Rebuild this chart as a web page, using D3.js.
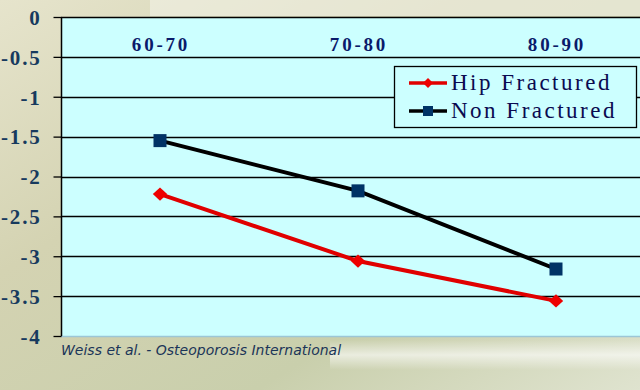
<!DOCTYPE html>
<html><head><meta charset="utf-8">
<script src="https://cdn.jsdelivr.net/npm/d3@7"></script>
<style>html,body{margin:0;padding:0;overflow:hidden;background:#d6d6b8}
.serif{font-family:"Liberation Serif","DejaVu Serif","Times New Roman",serif}</style>
</head><body>
<script>
const categories = ["60-70", "70-80", "80-90"];
const hipFractured = [-2.22, -3.06, -3.56];
const nonFractured = [-1.55, -2.18, -3.16];
const yTicks = [0, -0.5, -1, -1.5, -2, -2.5, -3, -3.5, -4];
const yTickLabels = ["0", "-0.5", "-1", "-1.5", "-2", "-2.5", "-3", "-3.5", "-4"];
const seriesNames = ["Hip Fractured", "Non Fractured"];
const sourceText = "Weiss et al. - Osteoporosis International";

(function(){
const W = 640, H = 390;
const svg = d3.select("body").append("svg").attr("width", W).attr("height", H);
const defs = svg.append("defs");

// background texture approximation
const bg = defs.append("linearGradient").attr("id","bg").attr("x1","0").attr("y1","0").attr("x2","1").attr("y2","1");
bg.append("stop").attr("offset","0").attr("stop-color","#e6e4cc");
bg.append("stop").attr("offset","0.35").attr("stop-color","#d4d3b2");
bg.append("stop").attr("offset","0.7").attr("stop-color","#c9cfac");
bg.append("stop").attr("offset","1").attr("stop-color","#dfe3cf");
svg.append("rect").attr("width",W).attr("height",H).attr("fill","url(#bg)");
const streak = defs.append("linearGradient").attr("id","streak").attr("x1","0").attr("y1","0").attr("x2","0").attr("y2","1");
streak.append("stop").attr("offset","0").attr("stop-color","#ffffff").attr("stop-opacity",0);
streak.append("stop").attr("offset","0.5").attr("stop-color","#ffffff").attr("stop-opacity",0.6);
streak.append("stop").attr("offset","1").attr("stop-color","#ffffff").attr("stop-opacity",0);
svg.append("rect").attr("x",330).attr("y",340).attr("width",310).attr("height",30).attr("fill","url(#streak)");
svg.append("rect").attr("x",150).attr("y",0).attr("width",490).attr("height",16).attr("fill","#f2f1e6").attr("opacity",0.6);

const pL = 61, pR = 640, pT = 17, pB = 336;
const x = d3.scaleBand().domain(categories).range([pL, pL + 3*198]);
const y = d3.scaleLinear().domain([-4, 0]).range([pB, pT]);

// plot area
svg.append("rect").attr("x",pL).attr("y",pT).attr("width",pR-pL).attr("height",pB-pT).attr("fill","#ccffff");
svg.append("line").attr("x1",pL).attr("x2",pR).attr("y1",pB+0.5).attr("y2",pB+0.5).attr("stroke","#9cc6d6").attr("stroke-width",1.5);

// gridlines
svg.append("g").selectAll("line").data(yTicks.slice(0,-1)).join("line")
  .attr("x1",pL).attr("x2",pR)
  .attr("y1",d=>Math.round(y(d))+0.5).attr("y2",d=>Math.round(y(d))+0.5)
  .attr("stroke","#000").attr("stroke-width",1.3);

// y axis
const yAxis = d3.axisLeft(y).tickValues(yTicks).tickFormat((d,i)=>yTickLabels[i]).tickSize(8).tickPadding(12);
const gy = svg.append("g").attr("transform",`translate(${pL+0.5},0)`).call(yAxis);
gy.attr("font-family",null);
gy.select(".domain").attr("stroke","#000").attr("stroke-width",1.5).attr("d",`M0,${pT}V${pB}`);
gy.selectAll(".tick line").attr("stroke","#000").attr("stroke-width",1.3);
gy.selectAll(".tick text").attr("class","serif").attr("fill","#173a5e")
  .attr("font-weight","bold").attr("font-size","21px").attr("letter-spacing","1.8px").attr("dy","0.35em");

// category labels at top
svg.append("g").selectAll("text").data(categories).join("text").attr("class","serif")
  .attr("x",d=>x(d)+x.bandwidth()/2+1).attr("y",51)
  .attr("text-anchor","middle").attr("fill","#0a1a6a")
  .attr("font-weight","bold").attr("font-size","19px").attr("letter-spacing","2.8px")
  .text(d=>d);

const line = d3.line().x((d,i)=>x(categories[i])+x.bandwidth()/2).y(d=>y(d));
// series
svg.append("path").datum(nonFractured).attr("d",line).attr("fill","none").attr("stroke","#000").attr("stroke-width",4);
svg.append("path").datum(hipFractured).attr("d",line).attr("fill","none").attr("stroke","#e00000").attr("stroke-width",4);

svg.append("g").selectAll("rect").data(nonFractured).join("rect")
  .attr("x",(d,i)=>x(categories[i])+x.bandwidth()/2-6.5).attr("y",d=>y(d)-6.5)
  .attr("width",13).attr("height",13).attr("fill","#003366");
const diamond = d3.symbol().type(d3.symbolSquare).size(88);
svg.append("g").selectAll("path").data(hipFractured).join("path")
  .attr("transform",(d,i)=>`translate(${x(categories[i])+x.bandwidth()/2},${y(d)}) scale(1.08,1) rotate(45)`)
  .attr("d",diamond).attr("fill","#ee0000");

// legend
const lg = svg.append("g");
lg.append("rect").attr("x",394.5).attr("y",66.5).attr("width",242).attr("height",61)
  .attr("fill","#ccffff").attr("stroke","#000").attr("stroke-width",1.3);
const rows = [{name:seriesNames[0], c:"#e00000", y:83, m:"d"},{name:seriesNames[1], c:"#000", y:111, m:"s"}];
rows.forEach(r=>{
  lg.append("line").attr("x1",409).attr("x2",447).attr("y1",r.y).attr("y2",r.y).attr("stroke",r.c).attr("stroke-width",3.5);
  if(r.m==="d") lg.append("path").attr("transform",`translate(428,${r.y}) rotate(45)`).attr("d",d3.symbol().type(d3.symbolSquare).size(50)).attr("fill","#ee0000");
  else lg.append("rect").attr("x",423).attr("y",r.y-5).attr("width",10).attr("height",10).attr("fill","#003366");
  lg.append("text").attr("class","serif").attr("x",451).attr("y",r.y+7).attr("fill","#0a0a50")
    .attr("font-size","23px").attr("letter-spacing","2.5px").text(r.name);
});

// source
svg.append("text").attr("x",61).attr("y",355).attr("fill","#1b3558")
  .attr("font-family","'DejaVu Sans',Verdana,sans-serif").attr("font-style","italic").attr("font-size","14px")
  .text(sourceText);
})();
</script>
</body></html>
